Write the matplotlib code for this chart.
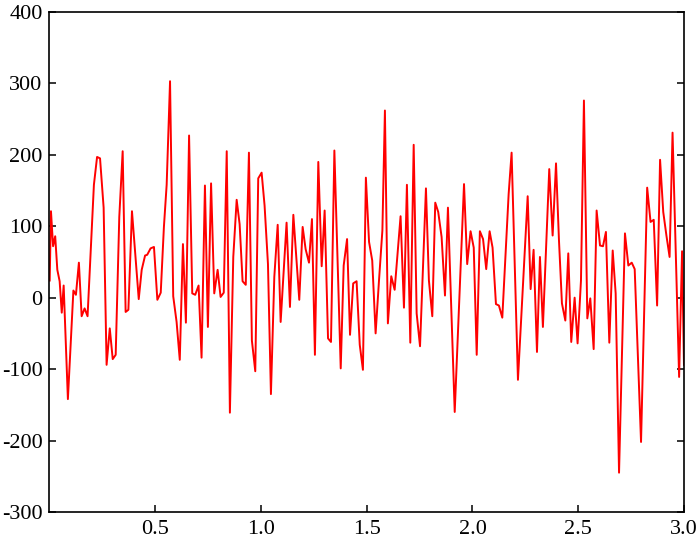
import matplotlib
matplotlib.use("Agg")
import matplotlib.pyplot as plt
import numpy as np

# values (x, signal)
x = [0.001, 0.007, 0.017, 0.027, 0.037, 0.048, 0.058, 0.067, 0.087, 0.113,
     0.125, 0.139, 0.152, 0.166, 0.180, 0.210, 0.225, 0.239, 0.256, 0.270,
     0.285, 0.299, 0.313, 0.330, 0.346, 0.360, 0.373, 0.390, 0.422, 0.436,
     0.452, 0.462, 0.478, 0.494, 0.510, 0.526, 0.541, 0.554, 0.570, 0.585,
     0.601, 0.616, 0.631, 0.645, 0.660, 0.675, 0.689, 0.705, 0.719, 0.735,
     0.749, 0.764, 0.779, 0.795, 0.809, 0.824, 0.838, 0.853, 0.869, 0.885,
     0.899, 0.913, 0.928, 0.943, 0.957, 0.973, 0.987, 1.003, 1.017, 1.033,
     1.047, 1.063, 1.079, 1.093, 1.121, 1.137, 1.153, 1.181, 1.197, 1.211,
     1.227, 1.241, 1.255, 1.271, 1.287, 1.301, 1.317, 1.331, 1.347, 1.377,
     1.391, 1.407, 1.421, 1.436, 1.452, 1.467, 1.482, 1.496, 1.511, 1.526,
     1.542, 1.558, 1.574, 1.586, 1.600, 1.616, 1.632, 1.660, 1.676, 1.690,
     1.706, 1.722, 1.736, 1.752, 1.780, 1.794, 1.810, 1.824, 1.838, 1.854,
     1.870, 1.884, 1.916, 1.960, 1.975, 1.991, 2.006, 2.020, 2.035, 2.050,
     2.065, 2.081, 2.095, 2.111, 2.125, 2.141, 2.171, 2.185, 2.215, 2.261,
     2.275, 2.289, 2.305, 2.319, 2.333, 2.363, 2.379, 2.395, 2.409, 2.423,
     2.439, 2.453, 2.467, 2.483, 2.497, 2.513, 2.527, 2.543, 2.557, 2.573,
     2.587, 2.603, 2.617, 2.631, 2.647, 2.663, 2.677, 2.693, 2.721, 2.737,
     2.753, 2.767, 2.797, 2.826, 2.842, 2.857, 2.873, 2.887, 2.902, 2.917,
     2.932, 2.946, 2.977, 2.991, 3.000]
y = [24, 121, 72, 86, 39, 23, -21, 17, -142, 10,
     4, 49, -26, -15, -26, 158, 197, 195, 126, -94,
     -43, -86, -80, 113, 205, -20, -17, 121, -2, 39,
     59, 60, 69, 71, -3, 7, 99, 158, 303, 2,
     -34, -87, 75, -35, 227, 6, 4, 17, -84, 157,
     -41, 160, 6, 39, 1, 7, 205, -161, 57, 137,
     103, 23, 18, 203, -60, -103, 167, 175, 129, 47,
     -135, 29, 102, -34, 105, -13, 116, -3, 99, 68,
     49, 110, -80, 190, 44, 122, -57, -62, 206, -99,
     45, 82, -52, 20, 23, -66, -101, 168, 78, 52,
     -50, 24, 94, 262, -36, 30, 11, 114, -14, 158,
     -63, 214, -22, -68, 153, 24, -26, 133, 120, 85,
     3, 126, -160, 159, 47, 93, 70, -80, 93, 82,
     40, 93, 70, -9, -11, -28, 145, 203, -115, 142,
     12, 67, -76, 57, -41, 180, 87, 188, 80, -8,
     -32, 62, -62, 0, -64, 24, 276, -29, -1, -72,
     122, 73, 72, 92, -63, 66, 6, -245, 90, 45,
     49, 40, -202, 154, 106, 109, -11, 193, 120, 87,
     57, 231, -111, 65, -94]

xticks = [0.5, 1.0, 1.5, 2.0, 2.5, 3.0]
yticks = [-300, -200, -100, 0, 100, 200, 300, 400]

plt.rcParams['font.family'] = ['Liberation Serif', 'DejaVu Serif']
plt.rcParams['axes.unicode_minus'] = False

fig = plt.figure(figsize=(7.0, 5.42), dpi=100)
ax = fig.add_axes([0.0707, 0.0554, 0.9064, 0.9226])

ax.plot(x, y, '-', color='#ff0000', lw=1.4)

ax.set_xlim(0, 3.0)
ax.set_ylim(-300, 400)
ax.set_xticks(xticks)
ax.set_xticklabels(["%.1f" % t for t in xticks])
ax.set_yticks(yticks)
ax.set_yticklabels([str(t) for t in yticks])
ax.tick_params(direction='in', length=5, width=1.1, labelsize=16,
               right=True, top=False)
ax.tick_params(axis='y', pad=5)
ax.tick_params(axis='x', pad=6)
for s in ax.spines.values():
    s.set_linewidth(1.2)

fig.savefig("out.png", dpi=100)
